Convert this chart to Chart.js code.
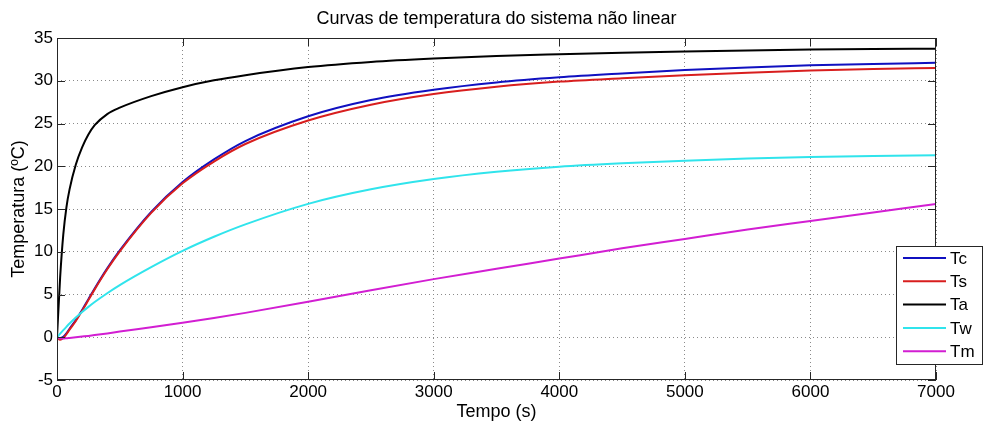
<!DOCTYPE html>
<html>
<head>
<meta charset="utf-8">
<script src="https://cdn.jsdelivr.net/npm/chart.js@4.4.1/dist/chart.umd.min.js"></script>
<style>
  html, body { margin: 0; padding: 0; background: #fff; }
  #wrap { width: 984px; height: 423px; }
</style>
</head>
<body>
<div id="wrap"><canvas id="tempChart" width="984" height="423"></canvas></div>
<script>
// tempo (s)
const tempo = [0, 25, 50, 75, 100, 150, 200, 250, 300, 400, 500, 750, 1000, 1250, 1500, 2000, 2500, 3000, 3500, 4000, 4500, 5000, 5500, 6000, 6500, 7000];

// temperaturas (ºC)
const Tc = [0, -0.1, 0.05, 0.45, 1.0, 2.0, 3.2, 4.45, 5.7, 8.05, 10.15, 14.65, 18.15, 20.8, 22.95, 25.85, 27.75, 28.95, 29.8, 30.4, 30.85, 31.25, 31.55, 31.8, 31.97, 32.1];
const Ts = [0, -0.3, -0.1, 0.35, 0.9, 1.9, 3.1, 4.35, 5.6, 7.95, 10.05, 14.55, 18.0, 20.55, 22.6, 25.35, 27.2, 28.45, 29.3, 29.9, 30.3, 30.65, 30.95, 31.2, 31.38, 31.5];
const Ta = [0, 7.0, 12.0, 15.2, 17.3, 20.2, 22.2, 23.7, 24.8, 26.1, 26.85, 28.2, 29.25, 30.05, 30.65, 31.6, 32.2, 32.6, 32.9, 33.1, 33.27, 33.42, 33.55, 33.65, 33.71, 33.75];
const Tw = [0, 0.42, 0.83, 1.22, 1.6, 2.3, 2.95, 3.55, 4.12, 5.15, 6.1, 8.2, 10.1, 11.75, 13.2, 15.6, 17.3, 18.5, 19.35, 19.95, 20.35, 20.65, 20.9, 21.07, 21.2, 21.3];
const Tm = [0, -0.12, -0.15, -0.12, -0.08, 0.0, 0.08, 0.16, 0.25, 0.45, 0.67, 1.18, 1.7, 2.25, 2.85, 4.15, 5.5, 6.8, 8.0, 9.2, 10.4, 11.5, 12.6, 13.6, 14.6, 15.6];

const xTicks = [0, 1000, 2000, 3000, 4000, 5000, 6000, 7000];
const yTicks = [-5, 0, 5, 10, 15, 20, 25, 30, 35];

const series = [
  { label: 'Tc', values: Tc, color: '#1010c0' },
  { label: 'Ts', values: Ts, color: '#d81e1e' },
  { label: 'Ta', values: Ta, color: '#000000' },
  { label: 'Tw', values: Tw, color: '#30e4ec' },
  { label: 'Tm', values: Tm, color: '#d21ed2' }
];

const FONT = '"Liberation Sans", Arial, sans-serif';

// box, inward ticks, titles and legend in the matlab style
const matlabFrame = {
  id: 'matlabFrame',
  afterDraw(chart) {
    const { ctx, chartArea: a, scales } = chart;
    const xs = scales.x, ys = scales.y;
    ctx.save();
    ctx.strokeStyle = '#262626';
    ctx.lineWidth = 1;
    ctx.strokeRect(a.left + 0.5, a.top + 0.5, a.right - a.left - 1, a.bottom - a.top - 1);

    const tl = 8;
    ctx.beginPath();
    xTicks.forEach(v => {
      const px = Math.round(xs.getPixelForValue(v)) + 0.5;
      ctx.moveTo(px, a.bottom); ctx.lineTo(px, a.bottom - tl);
      ctx.moveTo(px, a.top); ctx.lineTo(px, a.top + tl);
    });
    yTicks.forEach(v => {
      const py = Math.round(ys.getPixelForValue(v)) + 0.5;
      ctx.moveTo(a.left, py); ctx.lineTo(a.left + tl, py);
      ctx.moveTo(a.right, py); ctx.lineTo(a.right - tl, py);
    });
    ctx.stroke();

    ctx.fillStyle = '#000';
    ctx.textAlign = 'center';
    ctx.textBaseline = 'middle';
    ctx.font = '18px ' + FONT;
    ctx.fillText('Curvas de temperatura do sistema não linear', (a.left + a.right) / 2, 19);
    ctx.fillText('Tempo (s)', (a.left + a.right) / 2, 412);
    ctx.save();
    ctx.translate(19, (a.top + a.bottom) / 2);
    ctx.rotate(-Math.PI / 2);
    ctx.fillText('Temperatura (ºC)', 0, 0);
    ctx.restore();

    // legenda
    const lx = 896, ly = 246, lw = 87, lh = 119;
    ctx.fillStyle = '#fff';
    ctx.fillRect(lx, ly, lw, lh);
    ctx.strokeStyle = '#262626';
    ctx.strokeRect(lx + 0.5, ly + 0.5, lw - 1, lh - 1);
    ctx.textAlign = 'left';
    ctx.font = '17px ' + FONT;
    chart.data.datasets.forEach((ds, i) => {
      const y = ly + 12 + i * 23.3;
      ctx.strokeStyle = ds.borderColor;
      ctx.lineWidth = 2;
      ctx.beginPath();
      ctx.moveTo(lx + 7, y); ctx.lineTo(lx + 50, y);
      ctx.stroke();
      ctx.fillStyle = '#000';
      ctx.fillText(ds.label, lx + 54, y + 1);
    });
    ctx.restore();
  }
};

new Chart(document.getElementById('tempChart'), {
  type: 'line',
  data: {
    datasets: series.map((s, i) => ({
      label: s.label,
      data: tempo.map((t, k) => ({ x: t, y: s.values[k] })),
      borderColor: s.color,
      backgroundColor: s.color,
      borderWidth: 2,
      pointRadius: 0,
      cubicInterpolationMode: 'monotone',
      fill: false,
      order: series.length - i
    }))
  },
  options: {
    responsive: false,
    animation: false,
    devicePixelRatio: 1,
    layout: { padding: { top: 38, right: 48, left: 0, bottom: 0 } },
    plugins: {
      legend: { display: false },
      tooltip: { enabled: false },
      title: { display: false }
    },
    scales: {
      x: {
        type: 'linear',
        min: 0,
        max: 7000,
        afterFit: s => { s.height = 43; },
        afterBuildTicks: s => { s.ticks = xTicks.map(v => ({ value: v })); },
        ticks: {
          color: '#000',
          font: { family: FONT, size: 17 },
          padding: 2,
          maxRotation: 0,
          callback: v => String(v)
        },
        grid: { color: '#8a8a8a', drawTicks: false, lineWidth: 1 },
        border: { display: false, dash: [1, 3] }
      },
      y: {
        min: -5,
        max: 35,
        afterFit: s => { s.width = 57; },
        afterBuildTicks: s => { s.ticks = yTicks.map(v => ({ value: v })); },
        ticks: { color: '#000', font: { family: FONT, size: 17 }, padding: 4, callback: v => String(v) },
        grid: { color: '#8a8a8a', drawTicks: false, lineWidth: 1 },
        border: { display: false, dash: [1, 3] }
      }
    }
  },
  plugins: [matlabFrame]
});
</script>
</body>
</html>
